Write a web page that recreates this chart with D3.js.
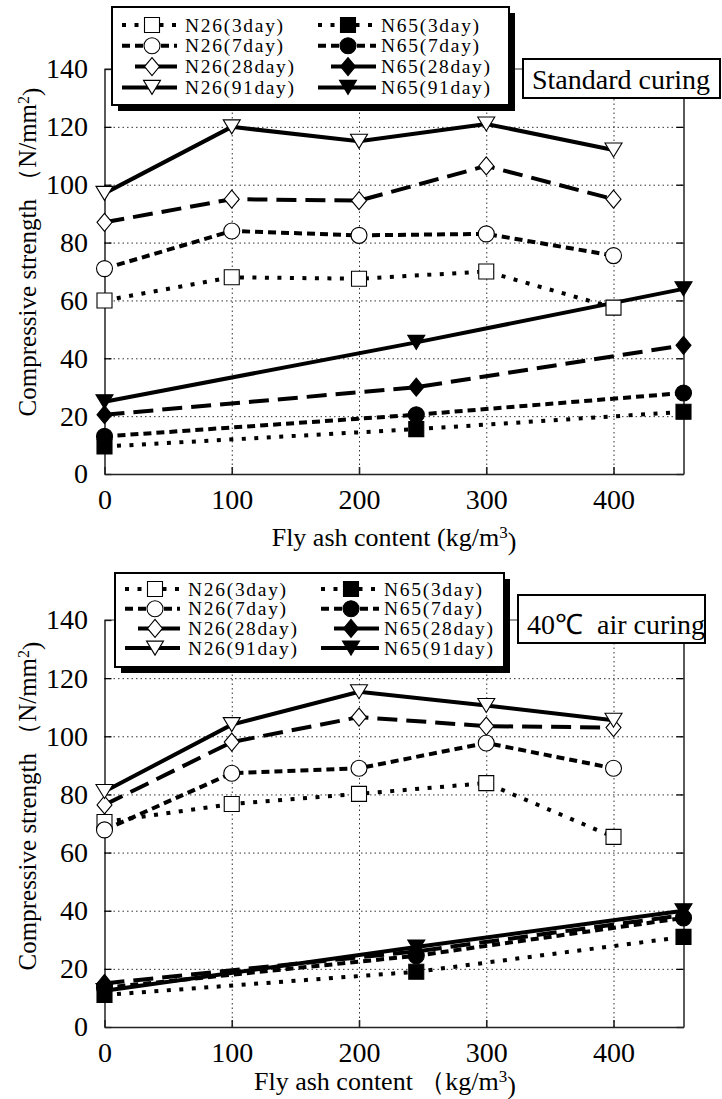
<!DOCTYPE html>
<html>
<head>
<meta charset="utf-8">
<script src="https://cdn.jsdelivr.net/npm/d3@7"></script>
<style>
  body { margin: 0; background: #fff; }
  svg { display: block; }
  text { font-family: "Liberation Serif", "Times New Roman", serif; }
</style>
</head>
<body>
<div id="chart"></div>
<script>
// 1. SETUP
const width = 722;
const height = 1099;

// DATA (fly ash content, kg/m3)
const faN26 = [0, 100, 200, 300, 400];
const faN65 = [0, 245, 455];
const xTicks = [0, 100, 200, 300, 400];
const yTicks = [0, 20, 40, 60, 80, 100, 120, 140];
const ages = ["3day", "7day", "28day", "91day"];

// Standard curing (N/mm2)
const std26_3 = [60, 68, 67.5, 70, 57.5];
const std26_7 = [71, 84, 82.5, 83, 75.5];
const std26_28 = [87, 95, 94.5, 106.5, 95];
const std26_91 = [97, 120, 115, 121, 112];
const std65_3 = [9.5, 15.5, 21.5];
const std65_7 = [13, 20.5, 28];
const std65_28 = [20.5, 30, 44.5];
const std65_91 = [25, 45.5, 64];

// 40C air curing (N/mm2)
const air26_3 = [70.5, 76.7, 80.2, 83.9, 65.4];
const air26_7 = [67.8, 87.3, 89, 97.7, 89];
const air26_28 = [76.4, 98, 106.6, 103.5, 103];
const air26_91 = [81, 104, 115.3, 110.6, 105.5];
const air65_3 = [11, 19, 31];
const air65_7 = [13.5, 24.5, 37.5];
const air65_28 = [15, 26, 38.5];
const air65_91 = [12.5, 27.5, 40];

// line styles per age
const dashes = { "3day": "4,8.5", "7day": "8,5", "28day": "20,9", "91day": null };
const shapes = { "3day": "square", "7day": "circle", "28day": "diamond", "91day": "triangle" };

const serif = "Liberation Serif";

const svg = d3.select("#chart")
    .append("svg")
    .attr("width", width)
    .attr("height", height)
    .attr("viewBox", [0, 0, width, height]);

function markerPath(shape) {
    if (shape === "square") return "M-7.5,-7.5H7.5V7.5H-7.5Z";
    if (shape === "circle") return d3.symbol(d3.symbolCircle, Math.PI * 64)();
    if (shape === "diamond") return "M0,-9L7.5,0L0,9L-7.5,0Z";
    return "M-8.5,-7L8.5,-7L0,7Z";
}

function drawPanel(p) {
    const x = d3.scaleLinear().domain([0, 455]).range([104.5, 683.5]);
    const y = d3.scaleLinear().domain([0, 140]).range([p.y0, p.y140]);
    const g = svg.append("g");

    // --- GRID ---
    g.append("g")
        .attr("transform", `translate(0,${p.y0})`)
        .call(d3.axisBottom(x).tickValues(xTicks.slice(1)).tickSize(-(p.y0 - p.y140)).tickFormat(""))
        .call(a => a.select(".domain").remove())
        .selectAll("line")
        .attr("stroke", "#333")
        .attr("stroke-dasharray", "1.5,3");

    g.append("g")
        .attr("transform", `translate(${x(0)},0)`)
        .call(d3.axisLeft(y).tickValues(yTicks.slice(1, -1)).tickSize(-(x(455) - x(0))).tickFormat(""))
        .call(a => a.select(".domain").remove())
        .selectAll("line")
        .attr("stroke", "#333")
        .attr("stroke-dasharray", "1.5,3");

    // --- AXES ---
    g.append("g")
        .attr("transform", `translate(${x(0)},0)`)
        .call(d3.axisLeft(y).tickValues(yTicks).tickSizeInner(-7).tickSizeOuter(0).tickPadding(16.5))
        .attr("font-family", null)
        .attr("font-size", null)
        .call(a => a.selectAll("text").attr("fill", "#000").attr("font-family", serif).attr("font-size", 28))
        .call(a => a.selectAll("line, path").attr("stroke", "#000").attr("stroke-width", 1.3));

    g.append("g")
        .attr("transform", `translate(${x(455)},0)`)
        .call(d3.axisRight(y).tickValues(yTicks).tickSizeInner(-7).tickSizeOuter(0).tickFormat(""))
        .call(a => a.selectAll("line, path").attr("stroke", "#000").attr("stroke-width", 1.3));

    g.append("g")
        .attr("transform", `translate(0,${p.y0})`)
        .call(d3.axisBottom(x).tickValues(xTicks).tickSizeInner(-7).tickSizeOuter(0).tickPadding(15.5))
        .attr("font-family", null)
        .attr("font-size", null)
        .call(a => a.selectAll("text").attr("fill", "#000").attr("font-family", serif).attr("font-size", 28))
        .call(a => a.selectAll("line, path").attr("stroke", "#222").attr("stroke-width", 1.6));

    g.append("line")
        .attr("x1", x(0)).attr("x2", x(455))
        .attr("y1", y(140)).attr("y2", y(140))
        .attr("stroke", "#333").attr("stroke-width", 1);

    // --- SERIES ---
    const series = [];
    ages.forEach((age, i) => {
        series.push({ age, filled: false, pts: faN26.map((f, j) => [f, p.n26[i][j]]) });
        series.push({ age, filled: true, pts: faN65.map((f, j) => [f, p.n65[i][j]]) });
    });

    const line = d3.line().x(d => x(d[0])).y(d => y(d[1]));

    g.append("g").selectAll("path")
        .data(series)
        .join("path")
        .attr("d", d => line(d.pts))
        .attr("fill", "none")
        .attr("stroke", "#000")
        .attr("stroke-width", 4)
        .attr("stroke-dasharray", d => dashes[d.age]);

    const mk = g.append("g");
    ages.forEach(age => {
        series.filter(s => s.age === age).forEach(s => {
            mk.selectAll(null)
                .data(s.pts)
                .join("path")
                .attr("transform", d => `translate(${x(d[0])},${y(d[1])})`)
                .attr("d", markerPath(shapes[age]))
                .attr("fill", s.filled ? "#000" : "#fff")
                .attr("stroke", "#000")
                .attr("stroke-width", 1.1);
        });
    });

    // --- LEGEND ---
    const L = p.legend;
    g.append("rect")
        .attr("x", L.x + 6).attr("y", L.y + 6)
        .attr("width", L.w).attr("height", L.h)
        .attr("fill", "#000");
    g.append("rect")
        .attr("x", L.x).attr("y", L.y)
        .attr("width", L.w).attr("height", L.h)
        .attr("fill", "#fff").attr("stroke", "#000").attr("stroke-width", 2);

    const cols = [
        { name: "N26", filled: false, x1: L.x + 10, x2: L.x + 65, mx: L.x + 40, tx: L.x + 73 },
        { name: "N65", filled: true, x1: L.x + 206, x2: L.x + 264, mx: L.x + 236, tx: L.x + 269 }
    ];
    ages.forEach((age, i) => {
        const ry = L.row0 + i * L.dy;
        cols.forEach(c => {
            g.append("line")
                .attr("x1", age === "28day" ? c.x1 + 13 : c.x1).attr("x2", c.x2)
                .attr("y1", ry).attr("y2", ry)
                .attr("stroke", "#000").attr("stroke-width", 4)
                .attr("stroke-dasharray", age === "28day" ? null : dashes[age]);
            g.append("path")
                .attr("transform", `translate(${c.mx},${ry})`)
                .attr("d", markerPath(shapes[age]))
                .attr("fill", c.filled ? "#000" : "#fff")
                .attr("stroke", "#000").attr("stroke-width", 1.1);
            const label = `${c.name}(${age})`;
            g.append("text")
                .attr("x", c.tx).attr("y", ry + 6.5)
                .attr("font-family", serif)
                .attr("font-size", 19.5)
                .attr("textLength", label.length * 10.9)
                .attr("lengthAdjust", "spacing")
                .text(label);
        });
    });

    // --- CURING LABEL BOX ---
    const B = p.box;
    g.append("rect")
        .attr("x", B.x).attr("y", B.y).attr("width", B.w).attr("height", B.h)
        .attr("fill", "#fff").attr("stroke", "#000").attr("stroke-width", 2);
    g.append("text")
        .attr("x", B.x + 9).attr("y", B.y + B.h - 9)
        .attr("font-family", serif)
        .attr("font-size", 28)
        .text(B.text);

    // --- AXIS TITLES ---
    const xt = g.append("text")
        .attr("x", p.xTitle.x).attr("y", p.xTitle.y)
        .attr("text-anchor", "middle")
        .attr("font-family", serif)
        .attr("font-size", 26);
    xt.append("tspan").text(p.xTitle.text);
    xt.append("tspan").attr("dy", "-0.45em").attr("font-size", 17).text("3");
    xt.append("tspan").attr("dy", "0.45em").text(")");

    const yt = g.append("text")
        .attr("transform", `translate(${p.yTitle.x},${p.yTitle.y}) rotate(-90)`)
        .attr("text-anchor", "middle")
        .attr("font-family", serif)
        .attr("font-size", 25);
    yt.append("tspan").text("Compressive strength （N/mm");
    yt.append("tspan").attr("dy", "-0.45em").attr("font-size", 16).text("2");
    yt.append("tspan").attr("dy", "0.45em").text(")");
}

drawPanel({
    y0: 474, y140: 69,
    n26: [std26_3, std26_7, std26_28, std26_91],
    n65: [std65_3, std65_7, std65_28, std65_91],
    legend: { x: 112, y: 7, w: 397, h: 98, row0: 25, dy: 20.8 },
    box: { x: 523, y: 59, w: 197, h: 39, text: "Standard curing" },
    xTitle: { x: 394, y: 546, text: "Fly ash content (kg/m" },
    yTitle: { x: 36, y: 252 }
});

drawPanel({
    y0: 1027, y140: 620,
    n26: [air26_3, air26_7, air26_28, air26_91],
    n65: [air65_3, air65_7, air65_28, air65_91],
    legend: { x: 115, y: 573, w: 389, h: 94, row0: 589, dy: 19.7 },
    box: { x: 518, y: 595, w: 187, h: 48, text: "40℃\u00a0 air curing" },
    xTitle: { x: 385, y: 1090, text: "Fly ash content （kg/m" },
    yTitle: { x: 36, y: 806 }
});
</script>
</body>
</html>
